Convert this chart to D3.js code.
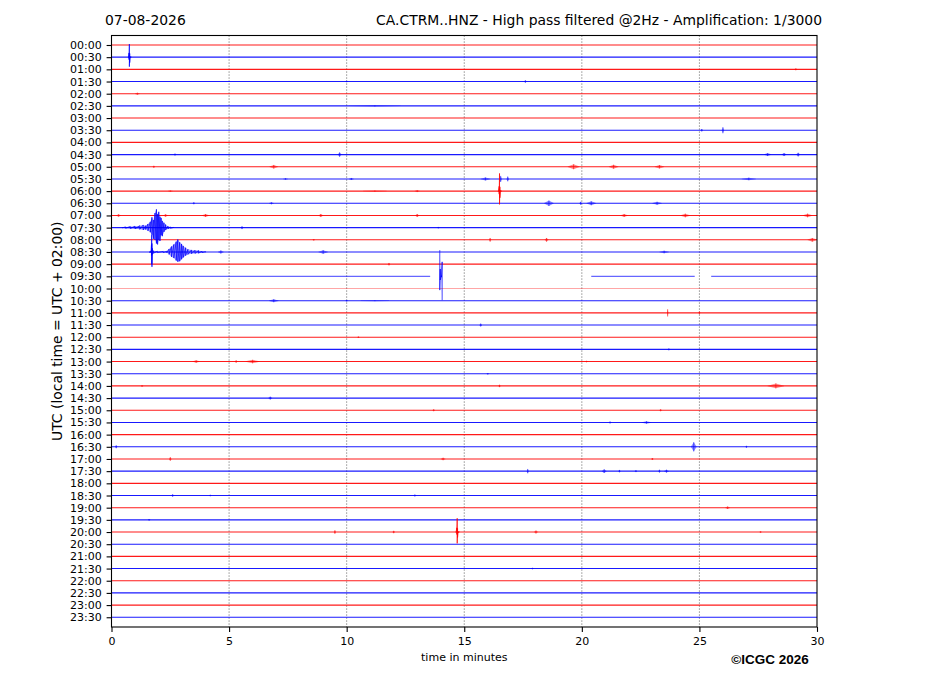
<!DOCTYPE html>
<html>
<head>
    <meta charset="utf-8">
    <title>CA.CTRM..HNZ helicorder</title>
    <script src="https://d3js.org/d3.v7.min.js"></script>
    <style>
        html, body { margin: 0; padding: 0; background: white; }
        svg text { font-family: "DejaVu Sans", sans-serif; }
    </style>
</head>
<body>
<div id="chart"></div>
<script>
    // Row labels (UTC start of each 30 min trace)
    const rowLabels = [
        "00:00", "00:30", "01:00", "01:30", "02:00", "02:30", "03:00", "03:30",
        "04:00", "04:30", "05:00", "05:30", "06:00", "06:30", "07:00", "07:30",
        "08:00", "08:30", "09:00", "09:30", "10:00", "10:30", "11:00", "11:30",
        "12:00", "12:30", "13:00", "13:30", "14:00", "14:30", "15:00", "15:30",
        "16:00", "16:30", "17:00", "17:30", "18:00", "18:30", "19:00", "19:30",
        "20:00", "20:30", "21:00", "21:30", "22:00", "22:30", "23:00", "23:30"
    ];
    const xTicks = [0, 5, 10, 15, 20, 25, 30];

    // 09:30 trace has data gaps: [start, end] minutes with data
    const row0930 = 19;
    const segments0930 = [[0, 13.55], [20.4, 24.8], [25.5, 30]];

    // Main events as min/max samples: [minute, up, down] in trace units
    const event0030 = [[0.72, 0.03, 0.03], [0.745, 0.35, 0.2], [0.76, 1.07, 0.78], [0.775, 0.3, 0.45], [0.795, 0.06, 0.06], [0.83, 0.03, 0.03]];
    const event0600 = [[16.45, 0.03, 0.03], [16.485, 0.4, 0.25], [16.5, 1.45, 1.09], [16.515, 0.35, 0.55], [16.54, 0.06, 0.05], [16.58, 0.03, 0.03]];
    const event0730 = [
        [0.45, 0.02, 0.02], [0.6, 0.06, 0.05], [0.8, 0.09, 0.08], [1.0, 0.12, 0.1], [1.2, 0.16, 0.14],
        [1.35, 0.22, 0.19], [1.45, 0.16, 0.15], [1.55, 0.3, 0.26], [1.65, 0.48, 0.38], [1.72, 0.85, 0.6],
        [1.78, 0.62, 0.92], [1.85, 1.2, 1.0], [1.91, 1.5, 1.3], [1.96, 1.1, 1.38], [2.01, 1.3, 1.0],
        [2.06, 0.9, 1.1], [2.11, 0.8, 0.62], [2.16, 0.55, 0.7], [2.23, 0.4, 0.35], [2.3, 0.25, 0.2],
        [2.4, 0.12, 0.1], [2.5, 0.06, 0.05], [2.65, 0.02, 0.02]
    ];
    const event0830 = [
        [1.62, 0.04, 0.04], [1.68, 0.1, 0.08], [1.70, 0.6, 0.3], [1.71, 1.39, 1.0], [1.72, 0.7, 1.22],
        [1.74, 0.3, 0.2], [1.78, 0.1, 0.1], [1.95, 0.06, 0.05], [2.2, 0.05, 0.05], [2.35, 0.06, 0.05],
        [2.45, 0.25, 0.2], [2.55, 0.45, 0.4], [2.65, 0.62, 0.5], [2.75, 0.85, 0.7], [2.82, 1.03, 0.8],
        [2.9, 0.8, 0.76], [2.98, 0.66, 0.6], [3.05, 0.5, 0.45], [3.15, 0.35, 0.3], [3.25, 0.22, 0.2],
        [3.4, 0.17, 0.15], [3.55, 0.14, 0.12], [3.7, 0.12, 0.1], [3.85, 0.06, 0.05], [4.0, 0.03, 0.03]
    ];
    const event0930 = [[13.96, 2.15, 1.13], [13.98, 0.6, 0.3], [14.03, 0.05, 0.05], [14.06, 1.19, 1.96]];
    const event2000 = [[14.65, 0.03, 0.03], [14.685, 0.35, 0.2], [14.7, 1.13, 0.93], [14.715, 0.3, 0.45], [14.74, 0.05, 0.05], [14.78, 0.03, 0.03]];

    const events = [
        { row: 1, samples: event0030 },
        { row: 12, samples: event0600 },
        { row: 15, samples: event0730 },
        { row: 17, samples: event0830 },
        { row: 19, samples: event0930 },
        { row: 40, samples: event2000 }
    ];

    // Small bursts: [row, centre minute, half width minutes, amplitude]
    const blips = [
        [2, 29.1, 0.05, 0.08], [3, 17.6, 0.05, 0.1], [3, 10.0, 0.05, 0.06], [4, 1.1, 0.1, 0.08],
        [5, 11.2, 1.1, 0.05], [7, 26.0, 0.05, 0.25], [7, 25.1, 0.05, 0.1],
        [9, 9.7, 0.08, 0.18], [9, 2.7, 0.05, 0.08], [9, 27.9, 0.15, 0.12], [9, 28.6, 0.1, 0.12], [9, 29.2, 0.08, 0.15],
        [10, 6.9, 0.18, 0.15], [10, 19.65, 0.25, 0.2], [10, 21.35, 0.2, 0.16], [10, 23.3, 0.2, 0.14], [10, 1.8, 0.05, 0.08],
        [11, 15.9, 0.2, 0.12], [11, 16.55, 0.05, 0.25], [11, 16.85, 0.05, 0.2], [11, 27.1, 0.3, 0.1], [11, 10.2, 0.1, 0.08], [11, 7.4, 0.1, 0.06],
        [12, 11.2, 0.5, 0.06], [12, 13.0, 0.1, 0.08], [12, 2.5, 0.1, 0.06],
        [13, 18.6, 0.2, 0.22], [13, 19.95, 0.05, 0.12], [13, 20.4, 0.2, 0.16], [13, 23.2, 0.2, 0.12], [13, 6.8, 0.1, 0.08], [13, 3.5, 0.05, 0.08],
        [14, 0.3, 0.1, 0.1], [14, 4.0, 0.15, 0.12], [14, 8.9, 0.1, 0.12], [14, 13.0, 0.08, 0.12], [14, 21.8, 0.15, 0.12],
        [14, 24.4, 0.2, 0.15], [14, 29.6, 0.2, 0.15], [14, 2.3, 0.1, 0.1],
        [15, 5.55, 0.05, 0.12], [15, 13.9, 0.05, 0.06],
        [16, 16.1, 0.05, 0.15], [16, 18.5, 0.08, 0.15], [16, 29.8, 0.2, 0.15], [16, 8.6, 0.05, 0.06],
        [17, 4.65, 0.12, 0.12], [17, 9.0, 0.2, 0.15], [17, 23.5, 0.2, 0.1],
        [18, 11.8, 0.05, 0.1],
        [21, 6.9, 0.2, 0.12], [21, 10.0, 0.05, 0.06], [21, 11.2, 0.6, 0.04],
        [22, 23.65, 0.03, 0.3], [22, 25.0, 0.04, 0.12], [23, 15.7, 0.05, 0.12],
        [24, 10.5, 0.05, 0.06], [25, 23.7, 0.05, 0.08],
        [26, 3.6, 0.15, 0.1], [26, 5.3, 0.05, 0.1], [26, 6.0, 0.3, 0.14], [26, 20.2, 0.05, 0.06],
        [27, 16.0, 0.05, 0.06],
        [28, 28.25, 0.35, 0.2], [28, 16.5, 0.05, 0.1], [28, 1.3, 0.05, 0.06],
        [29, 6.75, 0.08, 0.12], [30, 13.7, 0.05, 0.08], [30, 23.35, 0.05, 0.08],
        [31, 22.75, 0.2, 0.1], [31, 21.2, 0.05, 0.08],
        [33, 24.76, 0.12, 0.38], [33, 0.2, 0.05, 0.12], [33, 27.0, 0.04, 0.08],
        [34, 2.5, 0.05, 0.15], [34, 14.1, 0.1, 0.1], [34, 23.0, 0.05, 0.08],
        [35, 17.7, 0.04, 0.18], [35, 20.95, 0.1, 0.15], [35, 21.6, 0.05, 0.1], [35, 23.3, 0.05, 0.12], [35, 23.6, 0.1, 0.12], [35, 22.3, 0.05, 0.08],
        [37, 2.6, 0.05, 0.1], [37, 4.2, 0.05, 0.06], [37, 12.9, 0.05, 0.08],
        [38, 26.2, 0.1, 0.1], [39, 1.6, 0.05, 0.06],
        [40, 9.5, 0.04, 0.15], [40, 12.0, 0.05, 0.1], [40, 18.05, 0.08, 0.12], [40, 27.6, 0.05, 0.06],
        [43, 17.9, 0.05, 0.06]
    ];

    // Styles
    const traceColors = ["#ff0000", "#0000ff"];
    const lightRows = { 19: 0.6, 20: 0.35 };

    const W = 927, H = 696;
    const plot = { left: 111.5, right: 817, top: 35.5, bottom: 627 };

    const svg = d3.select("#chart").append("svg")
        .attr("width", W)
        .attr("height", H);

    svg.append("rect").attr("width", W).attr("height", H).attr("fill", "white");

    const x = d3.scaleLinear().domain([0, 30]).range([plot.left, plot.right]);
    const y = d3.scaleLinear().domain([-0.78, 47.8]).range([plot.top, plot.bottom]);

    const colorOf = (row) => traceColors[row % 2];
    const opacityOf = (row) => lightRows[row] !== undefined ? lightRows[row] : 0.9;

    // Grid lines
    svg.append("g")
        .selectAll("line")
        .data(xTicks.slice(1, -1))
        .join("line")
        .attr("x1", (d) => x(d)).attr("x2", (d) => x(d))
        .attr("y1", plot.top).attr("y2", plot.bottom)
        .attr("stroke", "#444")
        .attr("stroke-width", 0.8)
        .attr("stroke-dasharray", "1.1,1.9");

    const traces = svg.append("g");

    // Base traces
    rowLabels.forEach((label, row) => {
        const segs = row === row0930 ? segments0930 : [[0, 30]];
        segs.forEach((s) => {
            traces.append("line")
                .attr("x1", x(s[0])).attr("x2", x(s[1]))
                .attr("y1", y(row)).attr("y2", y(row))
                .attr("stroke", colorOf(row))
                .attr("stroke-opacity", opacityOf(row))
                .attr("stroke-width", 1.1);
        });
    });

    // Small bursts
    const blipArea = d3.area()
        .x((d) => x(d.m))
        .y0((d) => y(d.row + d.a))
        .y1((d) => y(d.row - d.a));

    blips.forEach(([row, c, h, a]) => {
        const pts = [{ m: c - h, row, a: 0.02 }, { m: c, row, a }, { m: c + h, row, a: 0.02 }];
        traces.append("path")
            .attr("d", blipArea(pts))
            .attr("fill", colorOf(row))
            .attr("fill-opacity", 0.45);
        traces.append("line")
            .attr("x1", x(c)).attr("x2", x(c))
            .attr("y1", y(row - a)).attr("y2", y(row + a))
            .attr("stroke", colorOf(row))
            .attr("stroke-opacity", 0.8)
            .attr("stroke-width", 0.7);
    });

    // Main events: filled envelope plus min/max zigzag
    const envArea = d3.area()
        .x((d) => x(d[0]));

    events.forEach((ev) => {
        const row = ev.row;
        envArea.y0((d) => y(row + d[2])).y1((d) => y(row - d[1]));
        traces.append("path")
            .attr("d", envArea(ev.samples))
            .attr("fill", colorOf(row))
            .attr("fill-opacity", 0.35);

        const zig = d3.path();
        ev.samples.forEach((d, i) => {
            if (i === 0) zig.moveTo(x(d[0]), y(row - d[1]));
            else zig.lineTo(x(d[0]), y(row - d[1]));
            zig.lineTo(x(d[0]), y(row + d[2]));
        });
        traces.append("path")
            .attr("d", zig.toString())
            .attr("fill", "none")
            .attr("stroke", colorOf(row))
            .attr("stroke-width", 0.7);
    });

    // Axes
    const yAxis = d3.axisLeft(y)
        .tickValues(d3.range(rowLabels.length))
        .tickFormat((d) => rowLabels[d])
        .tickSize(4.9)
        .tickPadding(4.9);

    const xAxis = d3.axisBottom(x)
        .tickValues(xTicks)
        .tickFormat(d3.format("d"))
        .tickSize(4.9)
        .tickPadding(4.9);

    const gy = svg.append("g")
        .attr("transform", `translate(${plot.left},0)`)
        .call(yAxis);
    const gx = svg.append("g")
        .attr("transform", `translate(0,${plot.bottom})`)
        .call(xAxis);

    [gx, gy].forEach((g) => {
        g.select(".domain").remove();
        g.selectAll("text")
            .attr("fill", "black")
            .style("font-size", "11px")
            .style("font-family", "DejaVu Sans");
        g.selectAll(".tick line").attr("stroke", "black").attr("stroke-width", 1.1);
    });

    // Frame
    svg.append("rect")
        .attr("x", plot.left).attr("y", plot.top)
        .attr("width", plot.right - plot.left)
        .attr("height", plot.bottom - plot.top)
        .attr("fill", "none")
        .attr("stroke", "black")
        .attr("stroke-width", 1.1);

    // Titles and labels
    svg.append("text")
        .attr("x", 105).attr("y", 25)
        .style("font-size", "13.9px")
        .text("07-08-2026");

    svg.append("text")
        .attr("x", 822).attr("y", 25)
        .attr("text-anchor", "end")
        .style("font-size", "13.9px")
        .text("CA.CTRM..HNZ - High pass filtered @2Hz - Amplification: 1/3000");

    svg.append("text")
        .attr("transform", `translate(62,${(plot.top + plot.bottom) / 2}) rotate(-90)`)
        .attr("text-anchor", "middle")
        .style("font-size", "13.9px")
        .text("UTC (local time = UTC + 02:00)");

    svg.append("text")
        .attr("x", (plot.left + plot.right) / 2).attr("y", 661)
        .attr("text-anchor", "middle")
        .style("font-size", "11px")
        .text("time in minutes");

    svg.append("text")
        .attr("x", 770).attr("y", 664)
        .attr("text-anchor", "middle")
        .style("font-family", "Liberation Sans, Arial, sans-serif")
        .style("font-weight", "bold")
        .style("font-size", "13.5px")
        .text("©ICGC 2026");
</script>
</body>
</html>
